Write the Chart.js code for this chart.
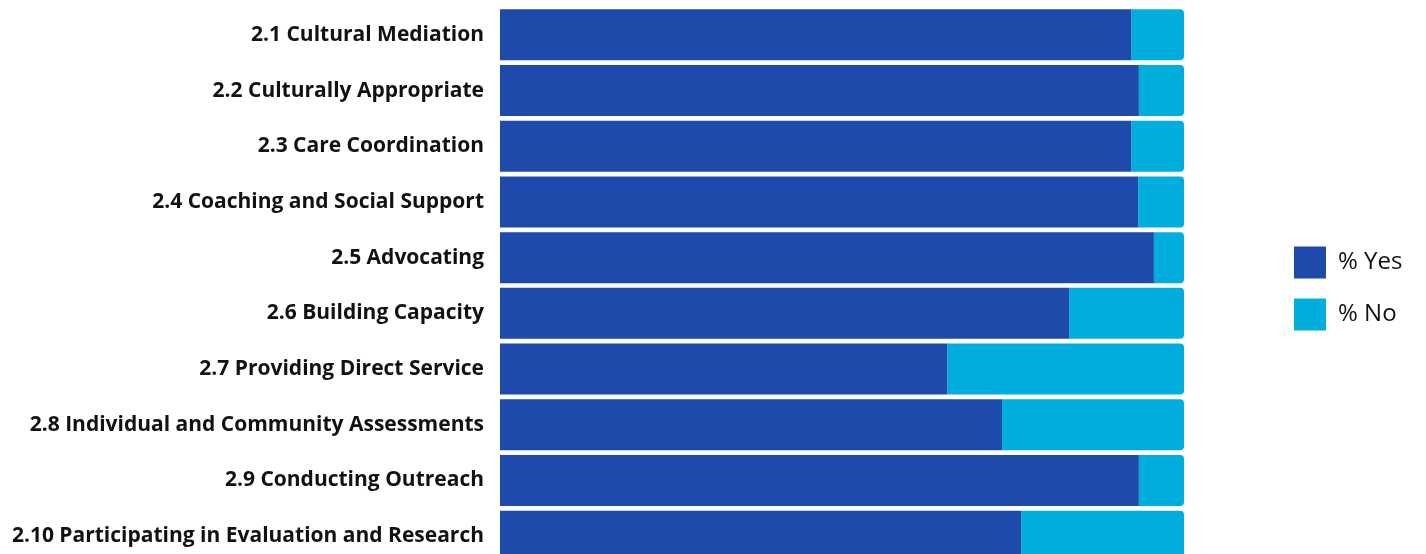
<!DOCTYPE html>
<html>
<head>
<meta charset="utf-8">
<script src="https://cdn.jsdelivr.net/npm/chart.js@4/dist/chart.umd.min.js"></script>
<style>
  html, body { margin: 0; padding: 0; background: #fff; overflow: hidden; }
  #wrap { position: relative; width: 1426px; height: 564px; }
</style>
</head>
<body>
<div id="wrap"><canvas id="c"></canvas></div>
<script>
const categories = [
  "2.1 Cultural Mediation",
  "2.2 Culturally Appropriate",
  "2.3 Care Coordination",
  "2.4 Coaching and Social Support",
  "2.5 Advocating",
  "2.6 Building Capacity",
  "2.7 Providing Direct Service",
  "2.8 Individual and Community Assessments",
  "2.9 Conducting Outreach",
  "2.10 Participating in Evaluation and Research"
];
const yesValues = [92.3, 93.4, 92.3, 93.3, 95.6, 83.2, 65.4, 73.4, 93.4, 76.2];
const noValues  = [7.7, 6.6, 7.7, 6.7, 4.4, 16.8, 34.6, 26.6, 6.6, 23.8];
const seriesNames = ["% Yes", "% No"];

const YES_COLOR = "#1D4AAB";
const NO_COLOR = "#00AEDE";

const legendPlacement = {
  id: "legendPlacement",
  afterInit(chart) {
    const lg = chart.legend;
    const orig = lg.fit;
    lg.fit = function () { orig.call(this); this.width = 242; };
  },
  afterLayout(chart) {
    const lg = chart.legend;
    lg.left = chart.chartArea.right + 90;
    lg.top = lg.top + 3;
    lg.bottom = lg.bottom + 3;
  }
};

new Chart(document.getElementById("c"), {
  type: "bar",
  data: {
    labels: categories,
    datasets: [
      {
        label: seriesNames[0],
        data: yesValues,
        backgroundColor: YES_COLOR,
        borderWidth: 0,
        borderRadius: 0,
        barPercentage: 0.916,
        categoryPercentage: 1.0
      },
      {
        label: seriesNames[1],
        data: noValues,
        backgroundColor: NO_COLOR,
        borderWidth: 0,
        borderSkipped: false,
        borderRadius: { topLeft: 0, bottomLeft: 0, topRight: 4, bottomRight: 4 },
        barPercentage: 0.916,
        categoryPercentage: 1.0
      }
    ]
  },
  options: {
    indexAxis: "y",
    responsive: true,
    maintainAspectRatio: false,
    animation: false,
    layout: { padding: { top: 7, left: 0, right: 0, bottom: 0 } },
    scales: {
      x: {
        stacked: true,
        min: 0,
        max: 100,
        display: false
      },
      y: {
        stacked: true,
        grid: { display: false, drawTicks: false },
        border: { display: false },
        ticks: {
          padding: 16,
          color: "#111",
          font: { family: "'Open Sans'", size: 21, weight: "bold" }
        },
        afterFit(scale) {
          scale.width = 500;
          scale.paddingTop = 0;
          scale.paddingBottom = 0;
        }
      }
    },
    plugins: {
      tooltip: { enabled: false },
      legend: {
        position: "right",
        align: "center",
        labels: {
          boxWidth: 32,
          boxHeight: 32,
          padding: 20,
          color: "#111",
          font: { family: "'Open Sans'", size: 24 }
        }
      }
    }
  },
  plugins: [legendPlacement]
});
</script>
</body>
</html>
